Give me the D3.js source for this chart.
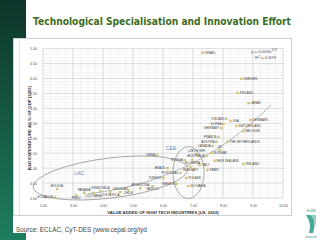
<!DOCTYPE html>
<html>
<head>
<meta charset="utf-8">
<script src="https://cdn.jsdelivr.net/npm/d3@7"></script>
<style>
  body { margin: 0; background: #fff; }
  svg { display: block; }
</style>
</head>
<body>
<svg width="320" height="240"></svg>
<script>
// data
var countries = ["ISRAEL", "SWEDEN", "FINLAND", "JAPAN", "ICELAND", "USA", "KOREA", "DENMARK",
    "GERMANY", "SWITZERLAND", "FRANCE", "BELGIUM", "THE NETHERLANDS", "AUSTRIA", "CANADA", "UK",
    "NORWAY", "AUSTRALIA", "IRELAND", "NEW ZEALAND", "SPAIN", "CZECH REP.", "SLOVENIA", "HUNGARY",
    "RUSSIA", "ITALY", "PORTUGAL", "POLAND", "SLOVAKIA", "GREECE", "CHINA", "TURKEY", "BRAZIL",
    "MEXICO", "ARGENTINA", "CHILE", "URUGUAY", "COSTA RICA", "VENEZUELA", "COLOMBIA", "PANAMA",
    "PERU", "BOLIVIA", "ECUADOR"];
var valueAdded = [7.32, 8.62, 8.49, 8.86, 8.12, 8.25, 8.02, 8.92,
    7.95, 8.45, 7.85, 8.69, 8.15, 7.79, 7.65, 7.89,
    7.62, 7.45, 8.69, 7.72, 7.48, 7.12, 6.98, 6.92,
    6.72, 7.22, 6.58, 6.78, 6.85, 6.45, 5.81, 6.01, 6.15,
    5.65, 5.24, 4.84, 4.58, 4.24, 3.91, 3.67, 3.37,
    3.10, 2.47, 2.40];
var rdSpend = [4.86, 3.99, 3.52, 3.18, 2.65, 2.58, 2.48, 2.61,
    2.34, 2.41, 2.04, 2.24, 1.88, 1.88, 1.74, 1.61,
    1.51, 1.41, 1.14, 1.24, 0.94, 1.47, 1.27, 1.04,
    1.27, 1.11, 0.84, 0.67, 0.40, 0.47, 1.44, 0.67, 1.00,
    0.40, 0.33, 0.27, 0.20, 0.20, 0.23, 0.17, 0.17,
    0.10, 0.30, 0.03];

// where each country name sits relative to its mark (default right)
var labelSide = {
    "ICELAND": "l", "KOREA": "l", "GERMANY": "l", "FRANCE": "l", "AUSTRIA": "l", "CANADA": "l",
    "UK": "t", "AUSTRALIA": "l", "CZECH REP.": "t", "RUSSIA": "l", "SLOVENIA": "b", "HUNGARY": "b",
    "PORTUGAL": "l", "GREECE": "l", "CHINA": "l", "TURKEY": "l", "BRAZIL": "l", "MEXICO": "b",
    "ARGENTINA": "t", "CHILE": "b", "URUGUAY": "t", "COSTA RICA": "b", "VENEZUELA": "t",
    "COLOMBIA": "b", "PANAMA": "t", "PERU": "b", "BOLIVIA": "t", "ECUADOR": "l"
};

var xTicks = [2, 3, 4, 5, 6, 7, 8, 9, 10];
var yTicks = [0, 0.5, 1, 1.5, 2, 2.5, 3, 3.5, 4, 4.5, 5];

// power trend y = a * x^b
var trendA = 0.003, trendB = 3.07, trendR2 = 0.829;
var trendFrom = 3.5, trendTo = 9.6;

// group ellipses: centre, radii (data units), tilt
var groupNames = ["LAC", "CEE"];
var groupCx = [4.25, 6.85];
var groupCy = [0.67, 0.85];
var groupRx = [2.6, 0.52];
var groupRy = [0.67, 0.87];
var groupTilt = [-7, 0];
var groupLabelX = [3.05, 6.1];
var groupLabelY = [0.77, 1.6];

var svg = d3.select("svg"),
    width = +svg.attr("width"),
    height = +svg.attr("height");

var defs = svg.append("defs");
var grad = defs.append("linearGradient")
    .attr("id", "band")
    .attr("gradientUnits", "userSpaceOnUse")
    .attr("x1", 0).attr("y1", 0).attr("x2", 0).attr("y2", 240);
grad.append("stop").attr("offset", "0%").attr("stop-color", "#0c352a");
grad.append("stop").attr("offset", "100%").attr("stop-color", "#1e7d5f");

// slide side band
svg.append("rect").attr("x", 0).attr("y", 0).attr("width", 26).attr("height", 38).attr("fill", "url(#band)");
svg.append("rect").attr("x", 0).attr("y", 38).attr("width", 13).attr("height", 196).attr("fill", "url(#band)");
svg.append("rect").attr("x", 0).attr("y", 233).attr("width", 26).attr("height", 7).attr("fill", "url(#band)");

svg.append("text")
    .attr("x", 33)
    .attr("y", 25)
    .attr("textLength", 258)
    .attr("lengthAdjust", "spacingAndGlyphs")
    .attr("font-family", "DejaVu Sans")
    .attr("font-weight", "bold")
    .attr("font-size", 10)
    .attr("fill", "#3b6d1c")
    .text("Technological Specialisation and Innovation Effort");

// chart box
svg.append("rect")
    .attr("x", 13.5).attr("y", 38.5)
    .attr("width", 278).attr("height", 177)
    .attr("fill", "#fff")
    .attr("stroke", "#cfcfcf");
svg.append("line")
    .attr("x1", 19.5).attr("x2", 19.5).attr("y1", 39).attr("y2", 215)
    .attr("stroke", "#e6e6e6");

var x = d3.scaleLinear().domain([2, 10]).range([43, 283]);
var y = d3.scaleLinear().domain([0, 5]).range([198, 48.7]);

var g = svg.append("g");

// minor grid
g.selectAll(".vminor")
    .data(d3.range(2, 10.001, 0.25))
    .enter().append("line")
    .attr("x1", function(d) { return x(d); })
    .attr("x2", function(d) { return x(d); })
    .attr("y1", y(5)).attr("y2", y(0))
    .attr("stroke", "#e9e9e9")
    .attr("stroke-width", 0.5);
g.selectAll(".hminor")
    .data(d3.range(0, 5.001, 0.1))
    .enter().append("line")
    .attr("x1", x(2)).attr("x2", x(10))
    .attr("y1", function(d) { return y(d); })
    .attr("y2", function(d) { return y(d); })
    .attr("stroke", "#e9e9e9")
    .attr("stroke-width", 0.5);

// major grid
g.selectAll(".vmajor")
    .data(xTicks)
    .enter().append("line")
    .attr("x1", function(d) { return x(d); })
    .attr("x2", function(d) { return x(d); })
    .attr("y1", y(5)).attr("y2", y(0))
    .attr("stroke", "#cdcdcd")
    .attr("stroke-width", 0.6);
g.selectAll(".hmajor")
    .data(yTicks)
    .enter().append("line")
    .attr("x1", x(2)).attr("x2", x(10))
    .attr("y1", function(d) { return y(d); })
    .attr("y2", function(d) { return y(d); })
    .attr("stroke", "#cdcdcd")
    .attr("stroke-width", 0.6);

// axes (labels only, lines come from the grid)
var xAxis = svg.append("g")
    .attr("transform", "translate(0," + (y(0) + 3) + ")")
    .call(d3.axisBottom(x).tickValues(xTicks).tickSize(0).tickFormat(d3.format(".2f")));
var yAxis = svg.append("g")
    .attr("transform", "translate(" + (x(2) - 3) + ",0)")
    .call(d3.axisLeft(y).tickValues(yTicks).tickSize(0).tickFormat(d3.format(".2f")));
svg.selectAll(".domain").remove();
svg.selectAll(".tick text")
    .attr("font-family", "Liberation Sans")
    .attr("font-size", 3.6)
    .attr("fill", "#555");

svg.append("text")
    .attr("x", 163)
    .attr("y", 213.5)
    .attr("text-anchor", "middle")
    .attr("font-family", "Liberation Sans")
    .attr("font-weight", "bold")
    .attr("font-size", 4.3)
    .attr("fill", "#333")
    .text("VALUE ADDED OF HIGH TECH INDUSTRIES (LN, 2002)");

svg.append("text")
    .attr("transform", "translate(30.5,128) rotate(-90)")
    .attr("text-anchor", "middle")
    .attr("font-family", "Liberation Sans")
    .attr("font-weight", "bold")
    .attr("font-size", 4.3)
    .attr("fill", "#333")
    .text("R&D EXPENDITURE AS % OF GDP (2002)");

// group ellipses
var kx = x(3) - x(2), ky = y(0) - y(1);
svg.selectAll(".group")
    .data(groupNames)
    .enter().append("ellipse")
    .attr("class", "group")
    .attr("cx", 0).attr("cy", 0)
    .attr("rx", function(d, i) { return groupRx[i] * kx; })
    .attr("ry", function(d, i) { return groupRy[i] * ky; })
    .attr("transform", function(d, i) {
        return "translate(" + x(groupCx[i]) + "," + y(groupCy[i]) + ") rotate(" + groupTilt[i] + ")";
    })
    .attr("fill", "none")
    .attr("stroke", "#a0a0a0")
    .attr("stroke-width", 0.9);
svg.selectAll(".grouplabel")
    .data(groupNames)
    .enter().append("text")
    .attr("x", function(d, i) { return x(groupLabelX[i]); })
    .attr("y", function(d, i) { return y(groupLabelY[i]); })
    .attr("font-family", "Liberation Sans")
    .attr("font-size", 5)
    .attr("fill", "#6a80b0")
    .text(function(d) { return d; });

// trend line
var trendData = d3.range(trendFrom, trendTo + 0.001, 0.05);
svg.append("path")
    .datum(trendData)
    .attr("fill", "none")
    .attr("stroke", "#9a9a9a")
    .attr("stroke-width", 0.7)
    .attr("d", d3.line()
        .x(function(d) { return x(d); })
        .y(function(d) { return y(trendA * Math.pow(d, trendB)); }));

var eq = svg.append("text")
    .attr("x", 251)
    .attr("y", 52.5)
    .attr("font-family", "Liberation Sans")
    .attr("font-size", 4.4)
    .attr("fill", "#555");
eq.append("tspan").text("y = " + trendA + "x");
eq.append("tspan").attr("dy", -1.5).attr("font-size", 3).text(trendB);
var r2 = svg.append("text")
    .attr("x", 255)
    .attr("y", 59)
    .attr("font-family", "Liberation Sans")
    .attr("font-size", 4.4)
    .attr("fill", "#555");
r2.append("tspan").text("R");
r2.append("tspan").attr("dy", -1.5).attr("font-size", 3).text("2");
r2.append("tspan").attr("dy", 1.5).text(" = " + trendR2);

// points
var pts = countries.map(function(c, i) {
    return { name: c, vx: valueAdded[i], vy: rdSpend[i], side: labelSide[c] || "r" };
});
svg.selectAll(".pt")
    .data(pts)
    .enter().append("rect")
    .attr("class", "pt")
    .attr("x", function(d) { return x(d.vx) - 1; })
    .attr("y", function(d) { return y(d.vy) - 1; })
    .attr("width", 2)
    .attr("height", 2)
    .attr("fill", "#d9d27a")
    .attr("stroke", "#b0a848")
    .attr("stroke-width", 0.3);
svg.selectAll(".lbl")
    .data(pts)
    .enter().append("text")
    .attr("class", "lbl")
    .attr("x", function(d) {
        if (d.side === "l") return x(d.vx) - 2;
        if (d.side === "r") return x(d.vx) + 2;
        return x(d.vx);
    })
    .attr("y", function(d) {
        if (d.side === "t") return y(d.vy) - 2;
        if (d.side === "b") return y(d.vy) + 4;
        return y(d.vy) + 1;
    })
    .attr("text-anchor", function(d) {
        if (d.side === "l") return "end";
        if (d.side === "r") return "start";
        return "middle";
    })
    .attr("font-family", "Liberation Sans")
    .attr("font-size", 3.1)
    .attr("fill", "#444")
    .text(function(d) { return d.name; });

// source line
svg.append("text")
    .attr("x", 16)
    .attr("y", 231.5)
    .attr("font-family", "Liberation Sans")
    .attr("font-size", 6.4)
    .attr("fill", "#444")
    .text("Source: ECLAC, CyT-DES (www.cepal.org/iyd");

// small logo bottom right
svg.append("text")
    .attr("x", 311).attr("y", 212)
    .attr("text-anchor", "middle")
    .attr("font-family", "Liberation Sans")
    .attr("font-size", 4)
    .attr("fill", "#3a8a78")
    .text("ЄUM");
svg.append("path")
    .attr("d", "M306,215 L311,215 Q317,222 313,233 L309,233 Q312,223 306,215 Z")
    .attr("fill", "#4aa896");
svg.append("path")
    .attr("d", "M311,215 L316,215 L316,228 Q315,220 311,215 Z")
    .attr("fill", "#8fd0c0");
svg.append("text")
    .attr("x", 311).attr("y", 237.5)
    .attr("text-anchor", "middle")
    .attr("font-family", "Liberation Sans")
    .attr("font-size", 3)
    .attr("fill", "#3a8a78")
    .text("research");
</script>
</body>
</html>
